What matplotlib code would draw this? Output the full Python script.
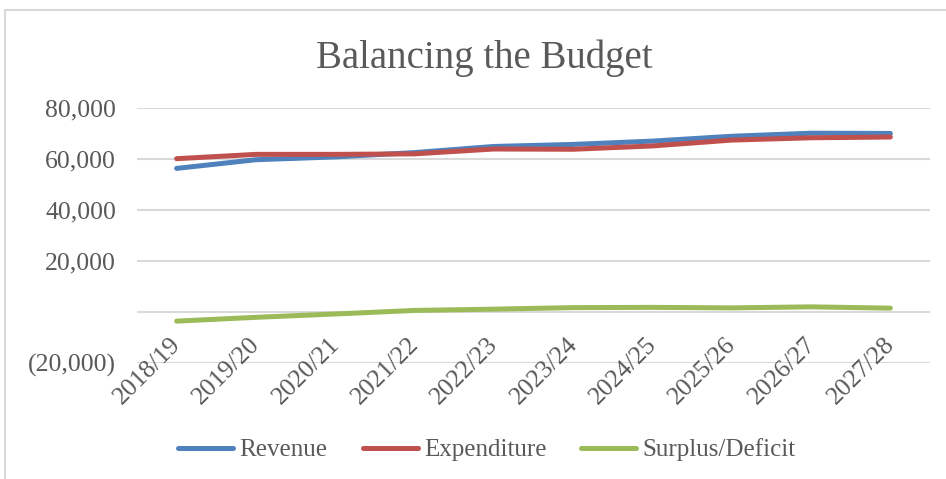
import matplotlib
matplotlib.use("Agg")
import matplotlib.pyplot as plt
from matplotlib.patches import Rectangle
from matplotlib.ticker import FuncFormatter

years = ["2018/19", "2019/20", "2020/21", "2021/22", "2022/23",
         "2023/24", "2024/25", "2025/26", "2026/27", "2027/28"]
revenue = [56200, 59600, 60700, 62400, 64800, 65600, 66900, 68800, 70000, 69900]
expenditure = [60000, 61700, 61700, 61900, 63800, 63700, 65000, 67300, 68200, 68500]
surplus = [-3700, -2200, -900, 500, 1000, 1600, 1700, 1500, 1900, 1400]
y_ticks = [-20000, 0, 20000, 40000, 60000, 80000]

W, H = 946, 479
fig = plt.figure(figsize=(W / 100, H / 100), dpi=100)
FONT = "Liberation Serif"
TXT = "#595959"
GRID = "#D9D9D9"

# chart border
fig.patches.append(Rectangle((5 / W, -0.1), 2, 1 - 10 / H + 0.1, transform=fig.transFigure,
                             fill=False, edgecolor=GRID, linewidth=1.5))

left, right = 137 / W, 930 / W
bottom, top = 1 - 362.7 / H, 1 - 107.7 / H
ax = fig.add_axes([left, bottom, right - left, top - bottom])

x = list(range(len(years)))
ax.plot(x, revenue, color="#4F81BD", lw=3.6, solid_capstyle="round", label="Revenue", zorder=3)
ax.plot(x, expenditure, color="#C0504D", lw=3.6, solid_capstyle="round", label="Expenditure", zorder=3)
ax.plot(x, surplus, color="#9BBB59", lw=3.6, solid_capstyle="round", label="Surplus/Deficit", zorder=3)

ax.set_xlim(-0.5, len(years) - 0.5)
ax.set_ylim(-20000, 80000)
ax.set_yticks(y_ticks)


def fmt(v, pos):
    if v == 0:
        return ""
    if v < 0:
        return "({:,.0f})".format(-v)
    return "{:,.0f}".format(v)


ax.yaxis.set_major_formatter(FuncFormatter(fmt))
ax.grid(axis="y", color=GRID, lw=1.5)
ax.set_axisbelow(True)
for s in ax.spines.values():
    s.set_visible(False)
ax.tick_params(axis="y", length=0, pad=15, labelsize=18.5, labelcolor=TXT)
for lbl in ax.get_yticklabels():
    lbl.set_fontfamily(FONT)
ax.set_xticks([])

for i, yr in enumerate(years):
    ax.annotate(yr, xy=(i, 0), xycoords="data", xytext=(-7, -22), textcoords="offset pixels",
                rotation=45, ha="right", va="top", rotation_mode="anchor",
                fontsize=18.5, color=TXT, family=FONT, annotation_clip=False)

fig.text(484 / W, 1 - 68 / H, "Balancing the Budget", ha="center", va="baseline",
         fontsize=28, color=TXT, family=FONT)

leg = fig.legend(loc="center", bbox_to_anchor=(487 / W, 1 - 450 / H), ncol=3, frameon=False,
                 prop={"family": FONT, "size": 18}, handlelength=2.2, handletextpad=0.25,
                 columnspacing=1.4, labelcolor=TXT)

fig.savefig("out.png", dpi=100)
